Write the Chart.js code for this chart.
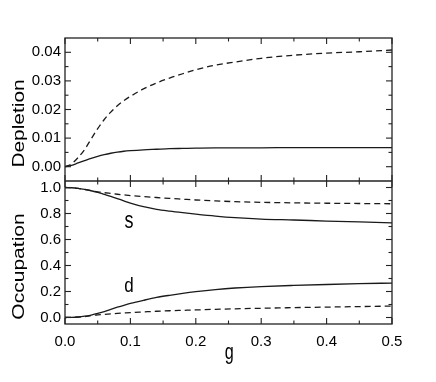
<!DOCTYPE html>
<html><head><meta charset="utf-8">
<script src="https://cdn.jsdelivr.net/npm/chart.js@4.4.1/dist/chart.umd.min.js"></script>
<style>html,body{margin:0;padding:0;background:#fff;}canvas{display:block;}</style>
</head><body>
<canvas id="c" width="436" height="382"></canvas>
<script>
// ---- data ----
const g = [0,0.01,0.02,0.03,0.04,0.05,0.06,0.07,0.08,0.09,0.10,0.12,0.14,0.16,0.18,0.20,0.23,0.26,0.30,0.35,0.40,0.45,0.50];
const depletionDashed = [0,0.001,0.0032,0.0060,0.0097,0.0133,0.0165,0.0191,0.0213,0.0231,0.0246,0.0272,0.0293,0.031,0.0325,0.0339,0.0355,0.0366,0.0379,0.039,0.0397,0.0402,0.0408];
const depletionSolid  = [0,0.0005,0.0013,0.0021,0.0029,0.0036,0.0042,0.0047,0.0051,0.0054,0.0056,0.0059,0.0061,0.0063,0.0064,0.0065,0.0066,0.0066,0.0066,0.0067,0.0067,0.0067,0.0067];
const occSSolid  = [1.0,0.998,0.993,0.985,0.975,0.962,0.947,0.932,0.915,0.897,0.88,0.852,0.832,0.818,0.806,0.795,0.78,0.768,0.757,0.75,0.742,0.735,0.728];
const occSDashed = [1.0,0.998,0.993,0.985,0.976,0.967,0.96,0.954,0.948,0.943,0.938,0.93,0.923,0.916,0.91,0.904,0.897,0.891,0.886,0.882,0.879,0.877,0.875];
const occDSolid  = [0,0.001,0.004,0.01,0.019,0.031,0.046,0.063,0.079,0.094,0.108,0.132,0.154,0.171,0.186,0.199,0.215,0.227,0.238,0.247,0.254,0.26,0.265];
const occDDashed = [0,0.001,0.003,0.007,0.015,0.02,0.024,0.028,0.032,0.035,0.038,0.043,0.048,0.052,0.055,0.058,0.063,0.067,0.071,0.076,0.080,0.084,0.088];

const xTicks = [0,0.1,0.2,0.3,0.4,0.5];
const xMinor = [0.05,0.15,0.25,0.35,0.45];
const depTicks = [0,0.01,0.02,0.03,0.04];
const depMinor = [0.005,0.015,0.025,0.035];
const occTicks = [0,0.2,0.4,0.6,0.8,1.0];
const occMinor = [0.1,0.3,0.5,0.7,0.9];
const xTitle = 'g';
const depTitle = 'Depletion';
const occTitle = 'Occupation';
const sLabel = 's';
const dLabel = 'd';

const pairs = (xs, ys) => xs.map((x, i) => ({x, y: ys[i]}));
const INK = '#1a1a1a';
const FONT = '"Liberation Sans", Arial, Helvetica, sans-serif';

const frameTicks = {
  id: 'frameTicks',
  afterDatasetsDraw(chart) {
    const {ctx, chartArea: a, scales} = chart;
    const xs = scales.x, yd = scales.yDep, yo = scales.yOcc;
    const mid = yd.bottom;
    ctx.save();
    ctx.strokeStyle = '#222';
    ctx.lineWidth = 1.3;
    ctx.strokeRect(a.left, a.top, a.right - a.left, a.bottom - a.top);
    ctx.beginPath(); ctx.moveTo(a.left, mid); ctx.lineTo(a.right, mid); ctx.stroke();
    const MAJ = 6, MIN = 3.5;
    ctx.lineWidth = 1.1;
    const hTick = (px, y, dir, len) => { ctx.beginPath(); ctx.moveTo(px, y); ctx.lineTo(px, y + dir * len); ctx.stroke(); };
    const vTick = (py, x, dir, len) => { ctx.beginPath(); ctx.moveTo(x, py); ctx.lineTo(x + dir * len, py); ctx.stroke(); };
    const edges = [[a.top, 1], [mid, -1], [mid, 1], [a.bottom, -1]];
    for (const [y, dir] of edges) {
      xTicks.forEach(v => hTick(xs.getPixelForValue(v), y, dir, MAJ));
      xMinor.forEach(v => hTick(xs.getPixelForValue(v), y, dir, MIN));
    }
    for (const [x, dir] of [[a.left, 1], [a.right, -1]]) {
      depTicks.forEach(v => vTick(yd.getPixelForValue(v), x, dir, MAJ));
      depMinor.forEach(v => vTick(yd.getPixelForValue(v), x, dir, MIN));
      occTicks.forEach(v => vTick(yo.getPixelForValue(v), x, dir, MAJ));
      occMinor.forEach(v => vTick(yo.getPixelForValue(v), x, dir, MIN));
    }
    // texts
    ctx.fillStyle = '#000';
    const txt = (t, x, y, size, sy, rot, align) => {
      ctx.save();
      ctx.translate(x, y);
      if (rot) ctx.rotate(rot);
      ctx.scale(rot ? sy : 1, rot ? 1 : sy);
      ctx.font = size + 'px ' + FONT;
      ctx.textAlign = align || 'center';
      ctx.textBaseline = 'alphabetic';
      ctx.fillText(t, 0, 0);
      ctx.restore();
    };
    txt(depTitle, 24, (yd.top + yd.bottom) / 2 + 14, 16.2, 1.29, -Math.PI / 2);
    txt(occTitle, 24, (yo.top + yo.bottom) / 2 + 14, 16.2, 1.3, -Math.PI / 2);
    txt(xTitle, (a.left + a.right) / 2 + 0.7, 358.5, 16.2, 1.4, 0);
    txt(sLabel, xs.getPixelForValue(0.098), yo.getPixelForValue(0.69), 18, 1.3, 0);
    txt(dLabel, xs.getPixelForValue(0.098), yo.getPixelForValue(0.193), 17, 1.15, 0);
    ctx.restore();
  }
};

const lineDs = (data, yAxisID, dashed) => ({
  data, yAxisID, borderColor: INK, borderWidth: 1.3, pointRadius: 0,
  borderDash: dashed ? [6, 4] : [], cubicInterpolationMode: 'monotone', fill: false
});

const tickFont = {family: FONT, size: 15};
const yCommon = (ticks, fmt) => ({
  type: 'linear', position: 'left', stack: 'panels', stackWeight: 1,
  grid: {display: false, drawTicks: false}, border: {display: false},
  afterBuildTicks: s => { s.ticks = ticks.map(v => ({value: v})); },
  afterFit: s => { s.width = 65; },
  ticks: {font: tickFont, color: '#000', padding: 4, autoSkip: false, callback: v => v.toFixed(fmt)}
});

new Chart(document.getElementById('c'), {
  type: 'line',
  data: {
    datasets: [
      lineDs(pairs(g, depletionDashed), 'yDep', true),
      lineDs(pairs(g, depletionSolid), 'yDep', false),
      lineDs(pairs(g, occSSolid), 'yOcc', false),
      lineDs(pairs(g, occSDashed), 'yOcc', true),
      lineDs(pairs(g, occDSolid), 'yOcc', false),
      lineDs(pairs(g, occDDashed), 'yOcc', true)
    ]
  },
  options: {
    responsive: false, animation: false, devicePixelRatio: 1,
    layout: {padding: {left: 0, right: 44, top: 38, bottom: 0}},
    plugins: {legend: {display: false}, tooltip: {enabled: false}},
    scales: {
      x: {
        type: 'linear', min: 0, max: 0.5,
        grid: {display: false, drawTicks: false}, border: {display: false},
        afterBuildTicks: s => { s.ticks = xTicks.map(v => ({value: v})); },
        afterFit: s => { s.height = 58; },
        ticks: {font: tickFont, color: '#000', padding: 9, maxRotation: 0, autoSkip: false, callback: v => v.toFixed(1)}
      },
      yOcc: Object.assign(yCommon(occTicks, 1), {min: -0.05, max: 1.05}),
      yDep: Object.assign(yCommon(depTicks, 2), {min: -0.005, max: 0.045})
    }
  },
  plugins: [frameTicks]
});
</script>
</body></html>
